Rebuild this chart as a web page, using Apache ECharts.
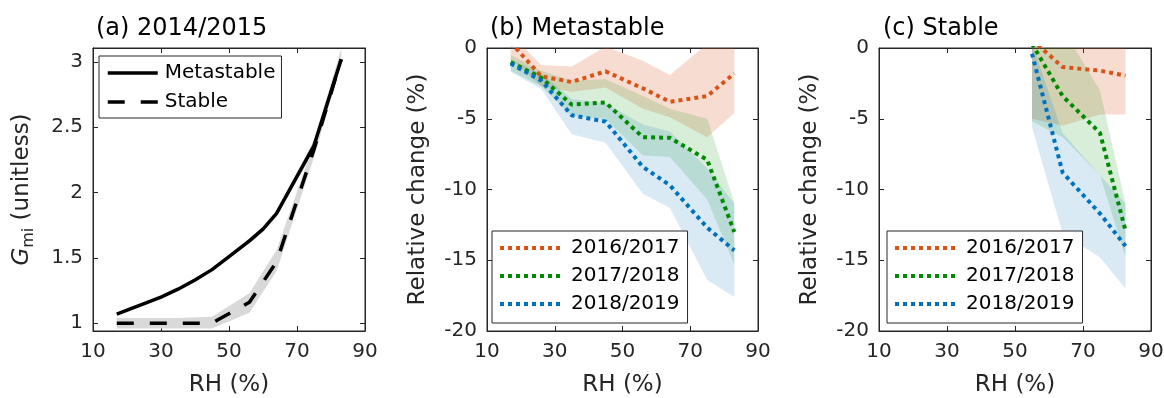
<!DOCTYPE html>
<html><head><meta charset="utf-8">
<script src="https://cdn.jsdelivr.net/npm/echarts@6/dist/echarts.min.js"></script>
<style>html,body{margin:0;padding:0;background:#fff}#c{width:1164px;height:398px}</style>
</head><body><div id="c"></div>
<script>
// ---------- data ----------
const xTicks = [10, 30, 50, 70, 90];
const yTicksA = [1, 1.5, 2, 2.5, 3];
const yTicksBC = [-20, -15, -10, -5, 0];

// (a) 2014/2015 growth factor
const rhMeta   = [17, 21, 26, 30, 35, 40, 45, 50, 56, 60, 64, 75, 83];
const gMeta    = [1.07, 1.11, 1.16, 1.20, 1.26, 1.33, 1.41, 1.51, 1.63, 1.72, 1.84, 2.36, 3.02];
const gMetaLo  = [1.06, 1.10, 1.15, 1.19, 1.25, 1.32, 1.40, 1.50, 1.61, 1.70, 1.82, 2.32, 2.99];
const gMetaHi  = [1.08, 1.12, 1.17, 1.21, 1.27, 1.34, 1.42, 1.52, 1.65, 1.74, 1.86, 2.40, 3.10];
const rhStab   = [17, 26, 35, 45, 56, 64, 75, 83];
const gStab    = [1.00, 1.00, 1.00, 1.00, 1.16, 1.47, 2.33, 3.02];
const gStabLo  = [0.96, 0.96, 0.96, 0.96, 1.08, 1.40, 2.27, 2.99];
const gStabHi  = [1.04, 1.04, 1.04, 1.05, 1.23, 1.56, 2.38, 3.08];

// (b) Metastable relative change (%)
const rhB      = [17, 26, 35, 45, 56, 64, 75, 83];
const m1617    = [0.4, -2.0, -2.4, -1.65, -2.85, -3.8, -3.4, -1.8];
const m1617Lo  = [-0.8, -2.7, -3.1, -2.8, -4.3, -4.9, -6.3, -4.6];
const m1617Hi  = [1.0, -1.2, -1.3, 0.1, -0.9, -1.9, 0.3, 0.5];
const m1718    = [-1.0, -2.1, -4.0, -3.85, -6.3, -6.35, -7.9, -13.0];
const m1718Lo  = [-1.6, -2.7, -4.8, -5.0, -7.6, -7.7, -10.7, -15.3];
const m1718Hi  = [-0.5, -1.6, -2.3, -2.2, -3.4, -4.3, -5.0, -10.9];
const m1819    = [-1.1, -2.3, -4.75, -5.2, -8.4, -9.7, -12.7, -14.3];
const m1819Lo  = [-1.7, -2.9, -6.1, -6.7, -10.3, -11.3, -16.4, -17.6];
const m1819Hi  = [-0.8, -1.8, -3.6, -3.9, -5.4, -5.9, -8.5, -11.0];

// (c) Stable relative change (%)
const rhC      = [55, 64, 75, 82.5];
const s1617    = [0.6, -1.35, -1.6, -1.95];
const s1617Lo  = [-5.0, -5.5, -4.7, -4.7];
const s1617Hi  = [1.0, 1.0, 1.0, 1.0];
const s1718    = [0.3, -3.4, -6.0, -12.9];
const s1718Lo  = [-5.2, -6.3, -9.0, -14.8];
const s1718Hi  = [1.0, 1.4, -3.0, -11.0];
const s1819    = [-0.4, -8.8, -11.7, -14.0];
const s1819Lo  = [-5.6, -13.1, -14.8, -17.0];
const s1819Hi  = [0.3, -6.0, -9.0, -11.0];

const yearNames = ['2016/2017', '2017/2018', '2018/2019'];

// ---------- styles ----------
const FONT = 'DejaVu Sans';
const AX = '#262626';
const C_OR = '#D95319', C_GR = '#008a00', C_BL = '#0072BD';
const DOT = [4, 4];
const DASH = [17, 16];

const gridsPos = [
  {left: 93, top: 48, width: 272, height: 283},
  {left: 487, top: 48, width: 271, height: 283},
  {left: 879, top: 48, width: 272, height: 283}
];

function xAxes(gi) {
  const base = {
    type: 'value', gridIndex: gi, min: xTicks[0], max: xTicks[xTicks.length - 1], interval: 20,
    axisLine: {show: true, onZero: false, lineStyle: {color: AX, width: 1}},
    axisTick: {show: true, inside: true, length: 5, lineStyle: {color: AX}},
    splitLine: {show: false}
  };
  return [
    Object.assign({}, base, {
      position: 'bottom',
      axisLabel: {show: true, color: AX, fontSize: 20, fontFamily: FONT, margin: 11},
      name: 'RH (%)', nameLocation: 'middle', nameGap: 43,
      nameTextStyle: {color: AX, fontSize: 23, fontFamily: FONT}
    }),
    Object.assign({}, base, {position: 'top', axisLabel: {show: false}})
  ];
}
function yAxes(gi, isA) {
  const base = {
    type: 'value', gridIndex: gi,
    axisLine: {show: true, onZero: false, lineStyle: {color: AX, width: 1}},
    splitLine: {show: false}
  };
  if (isA) {
    Object.assign(base, {min: 0.94, max: 3.107,
      axisTick: {show: true, inside: true, length: 5, lineStyle: {color: AX}, customValues: yTicksA}});
  } else {
    Object.assign(base, {min: yTicksBC[0], max: yTicksBC[yTicksBC.length - 1], interval: 5,
      axisTick: {show: true, inside: true, length: 5, lineStyle: {color: AX}}});
  }
  const left = Object.assign({}, base, {
    position: 'left',
    axisLabel: isA ? {show: true, color: AX, fontSize: 20, fontFamily: FONT, margin: 10, customValues: yTicksA}
                   : {show: true, color: AX, fontSize: 20, fontFamily: FONT, margin: 10},
    name: isA ? '{i|G}{s|mi} (unitless)' : 'Relative change (%)',
    nameLocation: 'middle', nameGap: isA ? 56 : 54,
    nameTextStyle: {color: AX, fontSize: 23, fontFamily: FONT, lineHeight: 30,
      rich: {
        i: {fontStyle: 'italic', fontSize: 23, fontFamily: FONT, color: AX, lineHeight: 30},
        s: {fontSize: 16, fontFamily: FONT, color: AX, verticalAlign: 'bottom', lineHeight: 16}
      }}
  });
  const right = Object.assign({}, base, {position: 'right', axisLabel: {show: false}});
  return [left, right];
}

function pairs(xs, ys) { return xs.map((x, i) => [x, ys[i]]); }

function lineSeries(name, gi, xs, ys, color, type, width) {
  return {
    type: 'line', name: name, xAxisIndex: 2 * gi, yAxisIndex: 2 * gi,
    data: pairs(xs, ys), symbol: 'none', showSymbol: false, smooth: false, clip: true,
    lineStyle: {color: color, width: width, type: type, cap: 'butt', join: 'round'},
    itemStyle: {color: color}, z: 5, animation: false, silent: true
  };
}
// shaded range drawn as one polygon through the axis scales (api.coord)
function bandSeries(gi, xs, lo, hi, color, opacity) {
  return {
    type: 'custom', xAxisIndex: 2 * gi, yAxisIndex: 2 * gi, z: 1, silent: true, animation: false,
    clip: true,
    data: [[xs[0], lo[0]]],
    renderItem: function (params, api) {
      const pts = [];
      for (let i = 0; i < xs.length; i++) pts.push(api.coord([xs[i], hi[i]]));
      for (let i = xs.length - 1; i >= 0; i--) pts.push(api.coord([xs[i], lo[i]]));
      const cs = params.coordSys;
      return {
        type: 'group',
        clipPath: {type: 'rect', shape: {x: cs.x, y: cs.y, width: cs.width, height: cs.height}},
        children: [{type: 'polygon', shape: {points: pts}, style: {fill: color, opacity: opacity}}]
      };
    }
  };
}

const series = [
  bandSeries(0, rhMeta, gMetaLo, gMetaHi, '#d9d9d9', 1),
  bandSeries(0, rhStab, gStabLo, gStabHi, '#d9d9d9', 1),
  lineSeries('Metastable', 0, rhMeta, gMeta, '#000', 'solid', 3.5),
  lineSeries('Stable', 0, rhStab, gStab, '#000', DASH, 3.5),
  bandSeries(1, rhB, m1617Lo, m1617Hi, C_OR, 0.2),
  bandSeries(1, rhB, m1718Lo, m1718Hi, C_GR, 0.15),
  bandSeries(1, rhB, m1819Lo, m1819Hi, C_BL, 0.15),
  lineSeries(yearNames[0], 1, rhB, m1617, C_OR, DOT, 4),
  lineSeries(yearNames[1], 1, rhB, m1718, C_GR, DOT, 4),
  lineSeries(yearNames[2], 1, rhB, m1819, C_BL, DOT, 4),
  bandSeries(2, rhC, s1617Lo, s1617Hi, C_OR, 0.2),
  bandSeries(2, rhC, s1718Lo, s1718Hi, C_GR, 0.15),
  bandSeries(2, rhC, s1819Lo, s1819Hi, C_BL, 0.15),
  lineSeries(yearNames[0], 2, rhC, s1617, C_OR, DOT, 4),
  lineSeries(yearNames[1], 2, rhC, s1718, C_GR, DOT, 4),
  lineSeries(yearNames[2], 2, rhC, s1819, C_BL, DOT, 4)
];

function legendAt(left, top, items, itemWidth, itemGap, padding) {
  return {
    show: true, orient: 'vertical', left: left, top: top,
    data: items.map(it => ({name: it.name, itemStyle: {opacity: 0},
      lineStyle: {color: it.color, width: it.width, type: it.type, cap: 'butt', opacity: 1}})),
    itemWidth: itemWidth, itemHeight: 14, itemGap: itemGap, padding: padding,
    borderColor: AX, borderWidth: 1, backgroundColor: '#fff', borderRadius: 0,
    selectedMode: false, itemStyle: {opacity: 0},
    textStyle: {fontSize: 20, fontFamily: FONT, color: '#000', padding: [0, 0, 0, 2]},
    z: 10
  };
}

const titleStyle = {fontSize: 24, fontWeight: 'normal', fontFamily: FONT, color: '#000'};

const option = {
  animation: false,
  backgroundColor: '#fff',
  title: [
    {text: '(a) 2014/2015', left: 96, top: 17, padding: 0, textStyle: titleStyle},
    {text: '(b) Metastable', left: 490, top: 17, padding: 0, textStyle: titleStyle},
    {text: '(c) Stable', left: 883, top: 17, padding: 0, textStyle: titleStyle}
  ],
  grid: gridsPos.map(g => Object.assign({show: true, borderColor: AX, borderWidth: 1,
    backgroundColor: '#fff', containLabel: false, outerBoundsMode: 'none'}, g)),
  xAxis: [].concat(xAxes(0), xAxes(1), xAxes(2)),
  yAxis: [].concat(yAxes(0, true), yAxes(1, false), yAxes(2, false)),
  legend: [
    legendAt(99, 56, [{name: 'Metastable', color: '#000', width: 3.5, type: 'solid'},
                      {name: 'Stable', color: '#000', width: 3.5, type: DASH}], 50, 9, [7, 6, 6, 7]),
    legendAt(492, 231, [{name: yearNames[0], color: C_OR, width: 4, type: DOT},
                        {name: yearNames[1], color: C_GR, width: 4, type: DOT},
                        {name: yearNames[2], color: C_BL, width: 4, type: DOT}], 64, 8, [7, 8, 9, 6]),
    legendAt(887, 231, [{name: yearNames[0], color: C_OR, width: 4, type: DOT},
                        {name: yearNames[1], color: C_GR, width: 4, type: DOT},
                        {name: yearNames[2], color: C_BL, width: 4, type: DOT}], 64, 8, [7, 8, 9, 6])
  ],
  series: series
};

const chart = echarts.init(document.getElementById('c'), null, {renderer: 'canvas'});
chart.setOption(option);
</script></body></html>
